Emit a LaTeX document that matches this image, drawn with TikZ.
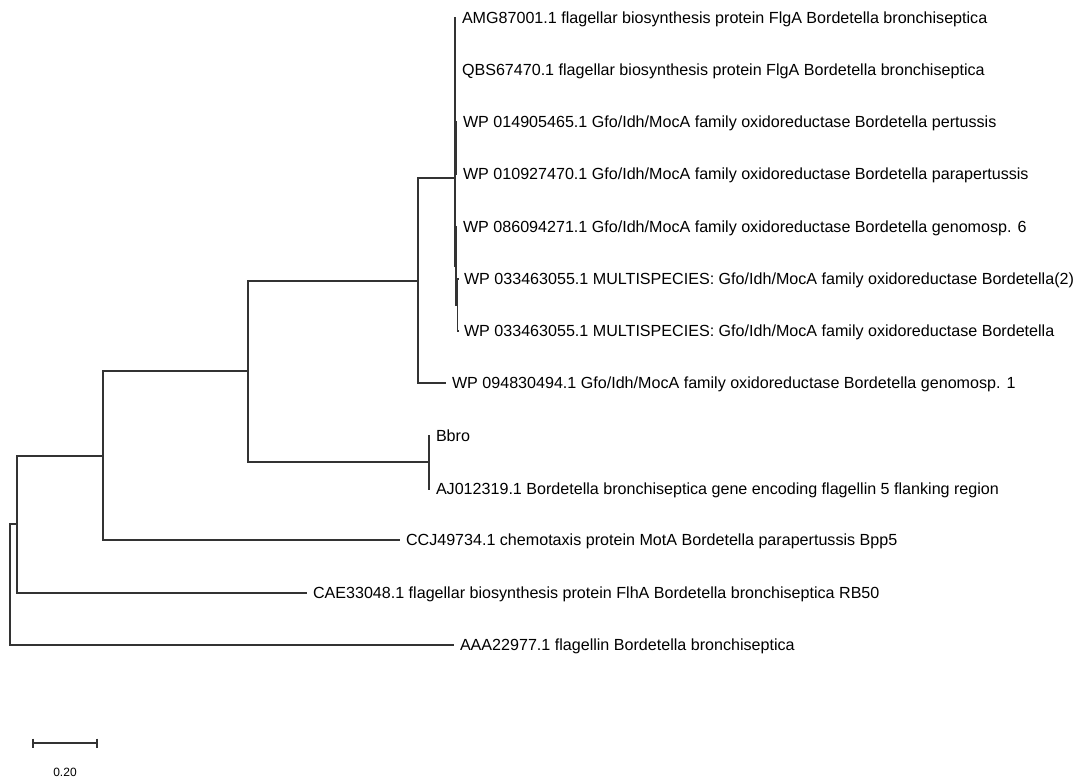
\documentclass[tikz,border=0pt]{standalone}
\usepackage{fontspec}
\setmainfont{Liberation Sans}
\tikzset{
  taxon/.style={anchor=west, inner sep=0pt, outer xsep=6pt, text height=11.5pt, text depth=0pt,
    font=\fontsize{16.1}{18}\selectfont},
  branch/.style={draw=black!80, line width=1.2pt},
}
\begin{document}
\begin{tikzpicture}[x=1pt, y=-1pt]
\useasboundingbox (0,0) rectangle (1080,779);

% leaves
\node[taxon] (amg) at (456,18) {AMG87001.1 flagellar biosynthesis protein FlgA Bordetella bronchiseptica};
\node[taxon] (qbs) at (456,70) {QBS67470.1 flagellar biosynthesis protein FlgA Bordetella bronchiseptica};
\node[taxon] (wp014) at (457,122) {WP 014905465.1 Gfo/Idh/MocA family oxidoreductase Bordetella pertussis};
\node[taxon] (wp010) at (457,174) {WP 010927470.1 Gfo/Idh/MocA family oxidoreductase Bordetella parapertussis};
\node[taxon] (wp086) at (457,227) {WP 086094271.1 Gfo/Idh/MocA family oxidoreductase Bordetella genomosp. 6};
\node[taxon] (wp033b) at (458,279) {WP 033463055.1 MULTISPECIES: Gfo/Idh/MocA family oxidoreductase Bordetella(2)};
\node[taxon] (wp033a) at (458,331) {WP 033463055.1 MULTISPECIES: Gfo/Idh/MocA family oxidoreductase Bordetella};
\node[taxon] (wp094) at (446,383) {WP 094830494.1 Gfo/Idh/MocA family oxidoreductase Bordetella genomosp. 1};
\node[taxon] (bbro) at (430,436) {Bbro};
\node[taxon] (aj) at (430,489) {AJ012319.1 Bordetella bronchiseptica gene encoding flagellin 5 flanking region};
\node[taxon] (ccj) at (400,540) {CCJ49734.1 chemotaxis protein MotA Bordetella parapertussis Bpp5};
\node[taxon] (cae) at (307,593) {CAE33048.1 flagellar biosynthesis protein FlhA Bordetella bronchiseptica RB50};
\node[taxon] (aaa) at (454,645) {AAA22977.1 flagellin Bordetella bronchiseptica};

% inner nodes
\coordinate (root) at (10,584);
\coordinate (n2) at (17,524);
\coordinate (n3) at (103,456);
\coordinate (n4) at (248,371);
\coordinate (n5) at (418,281);
\coordinate (n6) at (429,462);
\coordinate (n7) at (455,178);
\coordinate (n8) at (456,148);
\coordinate (n9) at (456,266);
\coordinate (n10) at (457.5,305);

\draw[branch] (root) |- (n2) (root) |- (aaa.west);
\draw[branch] (n2) |- (n3) (n2) |- (cae.west);
\draw[branch] (n3) |- (n4) (n3) |- (ccj.west);
\draw[branch] (n4) |- (n5) (n4) |- (n6);
\draw[branch] (n6) |- (bbro.west) (n6) |- (aj.west);
\draw[branch] (n5) |- (n7) (n5) |- (wp094.west);
\draw[branch] (n7) |- (amg.west) (n7) |- (qbs.west) (n7) |- (n8) (n7) |- (n9);
\draw[branch] (n8) |- (wp014.west) (n8) |- (wp010.west);
\draw[branch] (n9) |- (wp086.west) (n9) |- (n10);
\draw[branch] (n10) |- (wp033b.west) (n10) |- (wp033a.west);

% scale bar
\coordinate (bar1) at (33,743);
\coordinate (bar2) at (97,743);
\draw[branch] (bar1) -- (bar2);
\draw[branch] (bar1) ++(0,-4.5) -- ++(0,9);
\draw[branch] (bar2) ++(0,-4.5) -- ++(0,9);
\node[font=\fontsize{12}{14}\selectfont] (barlabel) at (65,772) {0.20};
\end{tikzpicture}
\end{document}
